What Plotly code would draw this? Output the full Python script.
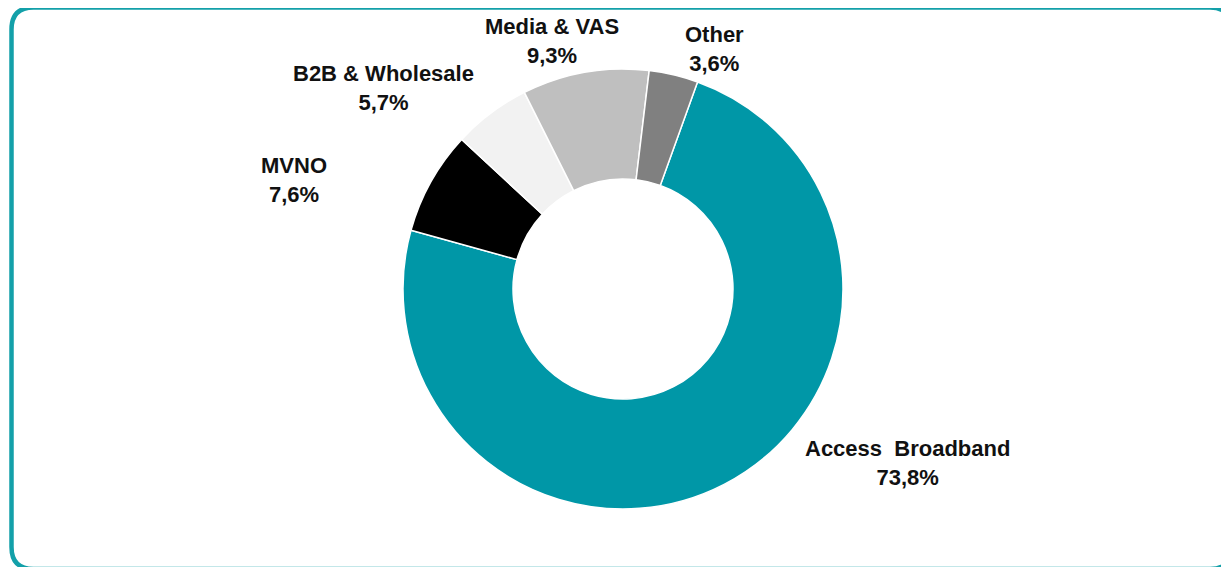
import plotly.graph_objects as go

# Dados do gráfico de receita por segmento
segmentos = ["Access  Broadband", "MVNO", "B2B & Wholesale", "Media & VAS", "Other"]
percentuais = [73.8, 7.6, 5.7, 9.3, 3.6]
cores = ["#0097a7", "#000000", "#f2f2f2", "#bfbfbf", "#808080"]

# Posição (px na página) do centro de cada rótulo
pos_rotulos = [(907, 463), (294, 180), (383, 88), (552, 41), (715, 49)]

W, H = 1229, 567
OFF = 8  # margem padrão do <body> na página gerada
cx, cy, raio = 623, 289, 220


def fx(px_):
    return (px_ - OFF) / W


def fy(py_):
    return 1 - (py_ - OFF) / H


def fmt(v):
    return f"{v:.1f}".replace(".", ",") + "%"


fig = go.Figure(
    go.Pie(
        labels=segmentos,
        values=percentuais,
        hole=0.5,
        sort=False,
        direction="clockwise",
        rotation=19.8,
        marker=dict(colors=cores, line=dict(color="white", width=1.5)),
        textinfo="none",
        hoverinfo="label+percent",
        showlegend=False,
        domain=dict(
            x=[fx(cx - raio), fx(cx + raio)],
            y=[fy(cy + raio), fy(cy - raio)],
        ),
    )
)

for nome, v, (px_, py_) in zip(segmentos, percentuais, pos_rotulos):
    fig.add_annotation(
        x=fx(px_),
        y=fy(py_),
        xref="paper",
        yref="paper",
        text=f"<b>{nome}<br>{fmt(v)}</b>",
        showarrow=False,
        align="center",
        xanchor="center",
        yanchor="middle",
        font=dict(family="Liberation Sans, Arial", size=22, color="#111111"),
    )

# Moldura arredondada (lados direito e inferior quase fora da imagem)
x0, x1, y0, y1, r = fx(11.5), fx(1232), fy(569), fy(7.5), 22
rx, ry = r / W, r / H
caminho = (
    f"M {x0 + rx} {y1} L {x1 - rx} {y1} Q {x1} {y1} {x1} {y1 - ry} "
    f"L {x1} {y0 + ry} Q {x1} {y0} {x1 - rx} {y0} "
    f"L {x0 + rx} {y0} Q {x0} {y0} {x0} {y0 + ry} "
    f"L {x0} {y1 - ry} Q {x0} {y1} {x0 + rx} {y1} Z"
)
fig.add_shape(
    type="path",
    path=caminho,
    xref="paper",
    yref="paper",
    line=dict(color="#13a0a9", width=4.5),
    layer="below",
)

fig.update_layout(
    width=W,
    height=H,
    margin=dict(l=0, r=0, t=0, b=0),
    paper_bgcolor="white",
    plot_bgcolor="white",
)

fig.write_html("out.html")
